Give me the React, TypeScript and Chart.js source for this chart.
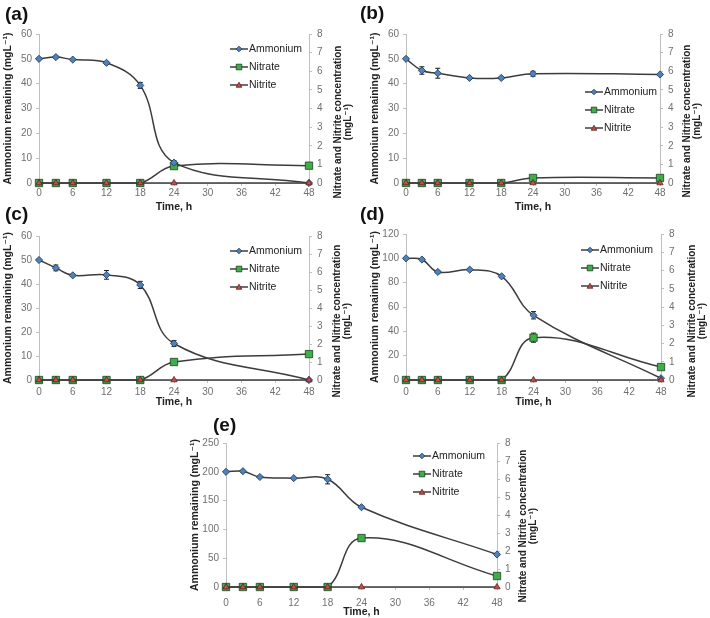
import React, { useEffect, useRef } from "react";
import { Chart, registerables } from "chart.js";

Chart.register(...registerables);

// ---------- DATA ----------
const TIME_H = [0, 3, 6, 12, 18, 24, 48];
const X_TICKS = [0, 6, 12, 18, 24, 30, 36, 42, 48];
const SERIES = ["Ammonium", "Nitrate", "Nitrite"];
const PANEL_LABELS = ["(a)", "(b)", "(c)", "(d)", "(e)"];
const X_TITLE = "Time, h";
const LEFT_TITLE = "Ammonium remaining (mgL\u207B\u00B9)";
const RIGHT_TITLE = ["Nitrate and Nitrite concentration", "(mgL\u207B\u00B9)"];

// (a)
const AMMONIUM_A = [50, 50.7, 49.7, 48.4, 39.3, 8.2, 0];
const AMMONIUM_ERR_A = [0.3, 0.4, 0.3, 0.5, 1.2, 0.8, 0];
const NITRATE_A = [0, 0, 0, 0, 0, 0.91, 0.93];
const NITRATE_ERR_A = [0, 0, 0, 0, 0, 0.05, 0.03];
const NITRITE_A = [0, 0, 0, 0, 0, 0, 0];

// (b)
const AMMONIUM_B = [50, 45.3, 44.2, 42.3, 42.3, 44.0, 43.7];
const AMMONIUM_ERR_B = [0.3, 1.5, 2.0, 0.4, 0.4, 1.0, 0.3];
const NITRATE_B = [0, 0, 0, 0, 0, 0.27, 0.27];
const NITRATE_ERR_B = [0, 0, 0, 0, 0, 0.04, 0.03];
const NITRITE_B = [0, 0, 0, 0, 0, 0, 0];

// (c)
const AMMONIUM_C = [50, 46.7, 43.6, 43.8, 39.6, 15.2, 0];
const AMMONIUM_ERR_C = [0.3, 1.2, 0.4, 1.8, 1.5, 1.2, 0];
const NITRATE_C = [0, 0, 0, 0, 0, 1.0, 1.44];
const NITRATE_ERR_C = [0, 0, 0, 0, 0, 0.04, 0.05];
const NITRITE_C = [0, 0, 0, 0, 0, 0, 0];

// (d)
const AMMONIUM_D = [100, 99, 88.8, 90.7, 85.2, 53.2, 1.4];
const AMMONIUM_ERR_D = [0.5, 0.5, 0.8, 0.6, 1.0, 3.0, 0];
const NITRATE_D = [0, 0, 0, 0, 0, 2.32, 0.71];
const NITRATE_ERR_D = [0, 0, 0, 0, 0, 0.25, 0.04];
const NITRITE_D = [0, 0, 0, 0, 0, 0, 0];

// (e)
const AMMONIUM_E = [200, 201, 191, 189, 187, 138.5, 56.5];
const AMMONIUM_ERR_E = [1, 1.5, 1, 1, 8, 1, 1];
const NITRATE_E = [0, 0, 0, 0, 0, 2.72, 0.61];
const NITRATE_ERR_E = [0, 0, 0, 0, 0, 0.05, 0.04];
const NITRITE_E = [0, 0, 0, 0, 0, 0, 0];

// ---------- STYLE / LAYOUT ----------
const FONT = "'Liberation Sans', Arial, 'DejaVu Sans', sans-serif";
const LINE_COLOR = "#3c3c3c";
const AXIS_COLOR = "#bfbfbf";
const TICK_COLOR = "#707070";
const TITLE_COLOR = "#222222";
const MARKERS = [
  { style: "rectRot", radius: 3.6, fill: "#4f81bd", stroke: "#1c3556" },
  { style: "rect", radius: 5.2, fill: "#3fae4a", stroke: "#1d3d1f" },
  { style: "triangle", radius: 3.6, fill: "#c0504d", stroke: "#5e1f1d" },
];

type PanelCfg = {
  label: string;
  left: number; top: number; w: number; h: number;
  padTop: number; leftW: number; rightW: number; xH: number;
  yMax: number; yStep: number;
  amm: number[]; ammErr: number[]; nit: number[]; nitErr: number[]; nitrite: number[];
  yTitlePad: number; xTickPad: number; xTitlePad: number;
  rTitleX: number; rTitleY: number;
  legendX: number; legendY: number;
  letterX: number; letterY: number;
};

const PANELS: PanelCfg[] = [
  {
    label: PANEL_LABELS[0], left: 0, top: 0, w: 355, h: 215,
    padTop: 34, leftW: 39, rightW: 46, xH: 32, yMax: 60, yStep: 10,
    amm: AMMONIUM_A, ammErr: AMMONIUM_ERR_A, nit: NITRATE_A, nitErr: NITRATE_ERR_A, nitrite: NITRITE_A,
    yTitlePad: 1.7, xTickPad: 1, xTitlePad: 1.7, rTitleX: 338, rTitleY: 122,
    legendX: 230, legendY: 49, letterX: 5, letterY: 15,
  },
  {
    label: PANEL_LABELS[1], left: 355, top: 0, w: 355, h: 215,
    padTop: 34, leftW: 51, rightW: 50, xH: 32, yMax: 60, yStep: 10,
    amm: AMMONIUM_B, ammErr: AMMONIUM_ERR_B, nit: NITRATE_B, nitErr: NITRATE_ERR_B, nitrite: NITRITE_B,
    yTitlePad: 13.7, xTickPad: 1, xTitlePad: 1.7, rTitleX: 332, rTitleY: 121,
    legendX: 230, legendY: 92, letterX: 5, letterY: 14,
  },
  {
    label: PANEL_LABELS[2], left: 0, top: 205, w: 355, h: 207,
    padTop: 31, leftW: 39, rightW: 46, xH: 32, yMax: 60, yStep: 10,
    amm: AMMONIUM_C, ammErr: AMMONIUM_ERR_C, nit: NITRATE_C, nitErr: NITRATE_ERR_C, nitrite: NITRITE_C,
    yTitlePad: 1.7, xTickPad: 3, xTitlePad: 3.7, rTitleX: 337, rTitleY: 116,
    legendX: 230, legendY: 46, letterX: 5, letterY: 10,
  },
  {
    label: PANEL_LABELS[3], left: 355, top: 205, w: 355, h: 207,
    padTop: 29, leftW: 51, rightW: 49, xH: 32, yMax: 120, yStep: 20,
    amm: AMMONIUM_D, ammErr: AMMONIUM_ERR_D, nit: NITRATE_D, nitErr: NITRATE_ERR_D, nitrite: NITRITE_D,
    yTitlePad: 13.7, xTickPad: 3, xTitlePad: 3.7, rTitleX: 337, rTitleY: 116,
    legendX: 226, legendY: 45, letterX: 5, letterY: 10,
  },
  {
    label: PANEL_LABELS[4], left: 170, top: 410, w: 370, h: 208,
    padTop: 33, leftW: 56, rightW: 43, xH: 31, yMax: 250, yStep: 50,
    amm: AMMONIUM_E, ammErr: AMMONIUM_ERR_E, nit: NITRATE_E, nitErr: NITRATE_ERR_E, nitrite: NITRITE_E,
    yTitlePad: 18.7, xTickPad: 7, xTitlePad: 0, rTitleX: 353, rTitleY: 116,
    legendX: 243, legendY: 46, letterX: 43, letterY: 16,
  },
];

function drawMarker(ctx: CanvasRenderingContext2D, style: string, x: number, y: number, r: number, fill: string, stroke: string) {
  ctx.save();
  ctx.beginPath();
  if (style === "rectRot") {
    ctx.moveTo(x, y - r); ctx.lineTo(x + r, y); ctx.lineTo(x, y + r); ctx.lineTo(x - r, y);
  } else if (style === "rect") {
    ctx.rect(x - r, y - r, 2 * r, 2 * r);
  } else {
    ctx.moveTo(x, y - r); ctx.lineTo(x + r, y + r * 0.8); ctx.lineTo(x - r, y + r * 0.8);
  }
  ctx.closePath();
  ctx.fillStyle = fill; ctx.fill();
  ctx.strokeStyle = stroke; ctx.lineWidth = 0.8; ctx.stroke();
  ctx.restore();
}

function makeDecor(cfg: PanelCfg) {
  return {
    id: "panelDecor",
    beforeDatasetsDraw(chart: any) {
      const ctx: CanvasRenderingContext2D = chart.ctx;
      ctx.save();
      ctx.strokeStyle = "#1a1a1a";
      ctx.lineWidth = 1;
      chart.data.datasets.forEach((ds: any, i: number) => {
        const errs: number[] | undefined = ds.errors;
        if (!errs) return;
        const meta = chart.getDatasetMeta(i);
        const ys = chart.scales[ds.yAxisID];
        ds.data.forEach((p: any, j: number) => {
          const e = errs[j];
          if (!e) return;
          const x = meta.data[j].x;
          const y1 = ys.getPixelForValue(p.y + e);
          const y2 = ys.getPixelForValue(Math.max(0, p.y - e));
          ctx.beginPath();
          ctx.moveTo(x, y1); ctx.lineTo(x, y2);
          ctx.moveTo(x - 2.5, y1); ctx.lineTo(x + 2.5, y1);
          ctx.moveTo(x - 2.5, y2); ctx.lineTo(x + 2.5, y2);
          ctx.stroke();
        });
      });
      ctx.restore();
    },
    afterDraw(chart: any) {
      const ctx: CanvasRenderingContext2D = chart.ctx;
      ctx.save();
      // legend
      SERIES.forEach((name, i) => {
        const y = cfg.legendY + i * 18;
        const x = cfg.legendX;
        ctx.strokeStyle = LINE_COLOR;
        ctx.lineWidth = 1.5;
        ctx.beginPath(); ctx.moveTo(x, y); ctx.lineTo(x + 18, y); ctx.stroke();
        const m = MARKERS[i];
        drawMarker(ctx, m.style, x + 9, y, 2.8, m.fill, m.stroke);
        ctx.fillStyle = TITLE_COLOR;
        ctx.font = `10.5px ${FONT}`;
        ctx.textAlign = "left";
        ctx.textBaseline = "middle";
        ctx.fillText(name, x + 19, y + 0.5);
      });
      // right axis title (reads bottom to top)
      ctx.font = `bold 10px ${FONT}`;
      ctx.fillStyle = TITLE_COLOR;
      ctx.textAlign = "center";
      ctx.textBaseline = "middle";
      RIGHT_TITLE.forEach((line, k) => {
        ctx.save();
        ctx.translate(cfg.rTitleX + k * 10.5, cfg.rTitleY);
        ctx.rotate(-Math.PI / 2);
        ctx.fillText(line, 0, 0);
        ctx.restore();
      });
      // panel letter
      ctx.font = `bold 19px ${FONT}`;
      ctx.fillStyle = "#111111";
      ctx.textAlign = "left";
      ctx.textBaseline = "middle";
      ctx.fillText(cfg.label, cfg.letterX, cfg.letterY);
      ctx.restore();
    },
  };
}

function Panel({ cfg }: { cfg: PanelCfg }) {
  const ref = useRef<HTMLCanvasElement>(null);
  useEffect(() => {
    const toPts = (arr: number[]) => TIME_H.map((t, i) => ({ x: t, y: arr[i] }));
    const base = {
      borderColor: LINE_COLOR,
      borderWidth: 1.5,
      tension: 0.4,
      clip: false as any,
      pointBorderWidth: 0.8,
    };
    const chart = new Chart(ref.current as HTMLCanvasElement, {
      type: "line",
      data: {
        datasets: [
          {
            ...base, label: SERIES[0], data: toPts(cfg.amm), yAxisID: "y", order: 1,
            pointStyle: MARKERS[0].style as any, pointRadius: MARKERS[0].radius,
            pointBackgroundColor: MARKERS[0].fill, pointBorderColor: MARKERS[0].stroke,
            errors: cfg.ammErr,
          } as any,
          {
            ...base, label: SERIES[1], data: toPts(cfg.nit), yAxisID: "y1", order: 2,
            pointStyle: MARKERS[1].style as any, pointRadius: MARKERS[1].radius,
            pointBackgroundColor: MARKERS[1].fill, pointBorderColor: MARKERS[1].stroke,
            errors: cfg.nitErr,
          } as any,
          {
            ...base, label: SERIES[2], data: toPts(cfg.nitrite), yAxisID: "y1", order: 0,
            pointStyle: MARKERS[2].style as any, pointRadius: MARKERS[2].radius,
            pointBackgroundColor: MARKERS[2].fill, pointBorderColor: MARKERS[2].stroke,
          } as any,
        ],
      },
      options: {
        responsive: false,
        animation: false,
        events: [],
        layout: { padding: { top: cfg.padTop, left: 0, right: 0, bottom: 0 } },
        plugins: { legend: { display: false }, tooltip: { enabled: false } },
        scales: {
          x: {
            type: "linear",
            min: 0,
            max: 48,
            afterBuildTicks: (s: any) => { s.ticks = X_TICKS.map((v) => ({ value: v })); },
            afterFit: (s: any) => { s.height = cfg.xH; },
            ticks: { padding: cfg.xTickPad, color: TICK_COLOR, font: { family: FONT, size: 10 }, maxRotation: 0 },
            grid: { display: true, drawOnChartArea: false, tickLength: 3, color: AXIS_COLOR },
            border: { display: true, color: AXIS_COLOR },
            title: {
              display: true, text: X_TITLE, color: TITLE_COLOR,
              font: { family: FONT, size: 10.5, weight: "bold", lineHeight: 1.2 },
              padding: { top: 0, bottom: cfg.xTitlePad },
            },
          },
          y: {
            type: "linear",
            position: "left",
            min: 0,
            max: cfg.yMax,
            afterFit: (s: any) => { s.width = cfg.leftW; },
            ticks: { stepSize: cfg.yStep, padding: 4, color: TICK_COLOR, font: { family: FONT, size: 10 } },
            grid: { display: true, drawOnChartArea: false, tickLength: 3, color: AXIS_COLOR },
            border: { display: true, color: AXIS_COLOR },
            title: {
              display: true, text: LEFT_TITLE, color: TITLE_COLOR,
              font: { family: FONT, size: 10.5, weight: "bold", lineHeight: 1.2 },
              padding: { top: cfg.yTitlePad, bottom: 0 },
            },
          },
          y1: {
            type: "linear",
            position: "right",
            min: 0,
            max: 8,
            afterFit: (s: any) => { s.width = cfg.rightW; },
            ticks: { stepSize: 1, padding: 5, color: TICK_COLOR, font: { family: FONT, size: 10 } },
            grid: { display: true, drawOnChartArea: false, tickLength: 3, color: AXIS_COLOR },
            border: { display: true, color: AXIS_COLOR },
          },
        },
      } as any,
      plugins: [makeDecor(cfg) as any],
    });
    return () => chart.destroy();
  }, [cfg]);
  return (
    <canvas
      ref={ref}
      width={cfg.w}
      height={cfg.h}
      style={{ position: "absolute", left: cfg.left, top: cfg.top, width: cfg.w, height: cfg.h }}
    />
  );
}

export default function App() {
  return (
    <div style={{ position: "absolute", left: 0, top: 0, width: 710, height: 618, background: "#ffffff", overflow: "hidden" }}>
      {PANELS.map((p) => (
        <Panel key={p.label} cfg={p} />
      ))}
    </div>
  );
}
